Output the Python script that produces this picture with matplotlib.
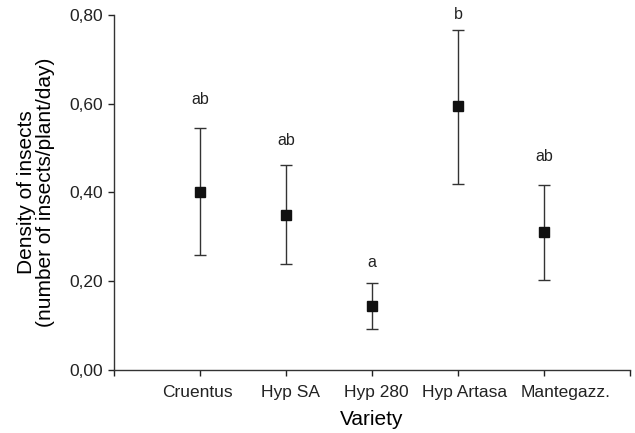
import matplotlib.pyplot as plt
import matplotlib.transforms as mtransforms
import numpy as np

plt.rcParams['font.family'] = ['Liberation Sans', 'DejaVu Sans']

# Varieties and mean insect density
varieties = ["Cruentus", "Hyp SA", "Hyp 280", "Hyp Artasa", "Mantegazz."]
density = [0.401, 0.350, 0.144, 0.595, 0.312]
upper = [0.545, 0.461, 0.195, 0.766, 0.416]
lower = [0.259, 0.239, 0.092, 0.419, 0.203]

# Significance letters and their heights
letters = ["ab", "ab", "a", "b", "ab"]
letter_y = [0.61, 0.516, 0.242, 0.802, 0.48]

x = np.arange(1, len(varieties) + 1)
yerr = [np.array(density) - np.array(lower), np.array(upper) - np.array(density)]

fig = plt.figure(figsize=(6.35, 4.33), dpi=100)
ax = fig.add_axes([0.1795, 0.1455, 0.8125, 0.82])

ax.errorbar(x, density, yerr=yerr, fmt='s', color='#111111', ecolor='#333333',
            elinewidth=1, capsize=4.5, capthick=1, markersize=7)

for xi, lab, ly in zip(x, letters, letter_y):
    ax.text(xi, ly, lab, ha='center', va='center', fontsize=11.5, color='#222222')

ax.set_xlim(0, 6)
ax.set_ylim(0, 0.8)
ax.set_xticks(np.arange(0, 7))
ax.set_xticklabels([""] + varieties + [""])
ax.set_yticks([0, 0.2, 0.4, 0.6, 0.8])
ax.set_yticklabels(["0,00", "0,20", "0,40", "0,60", "0,80"])
ax.tick_params(labelsize=12.5, length=4, width=1, colors='#222222')
ax.tick_params(axis='y', pad=4)
ax.tick_params(axis='x', pad=7)

# labels in the original sit slightly off their ticks
label_shift = [0, -3, 5, 4, 6.5, 22, 0]
for lbl, dx in zip(ax.get_xticklabels(), label_shift):
    lbl.set_transform(lbl.get_transform() +
                      mtransforms.ScaledTranslation(dx / 100, 0, fig.dpi_scale_trans))

for s in ['top', 'right']:
    ax.spines[s].set_visible(False)
for s in ['left', 'bottom']:
    ax.spines[s].set_color('#333333')
    ax.spines[s].set_linewidth(1)

ax.set_xlabel("Variety", fontsize=15, labelpad=7)
ax.set_ylabel("Density of insects\n(number of insects/plant/day)", fontsize=15,
              labelpad=10, linespacing=1.0)

fig.savefig("out.png", dpi=100)
